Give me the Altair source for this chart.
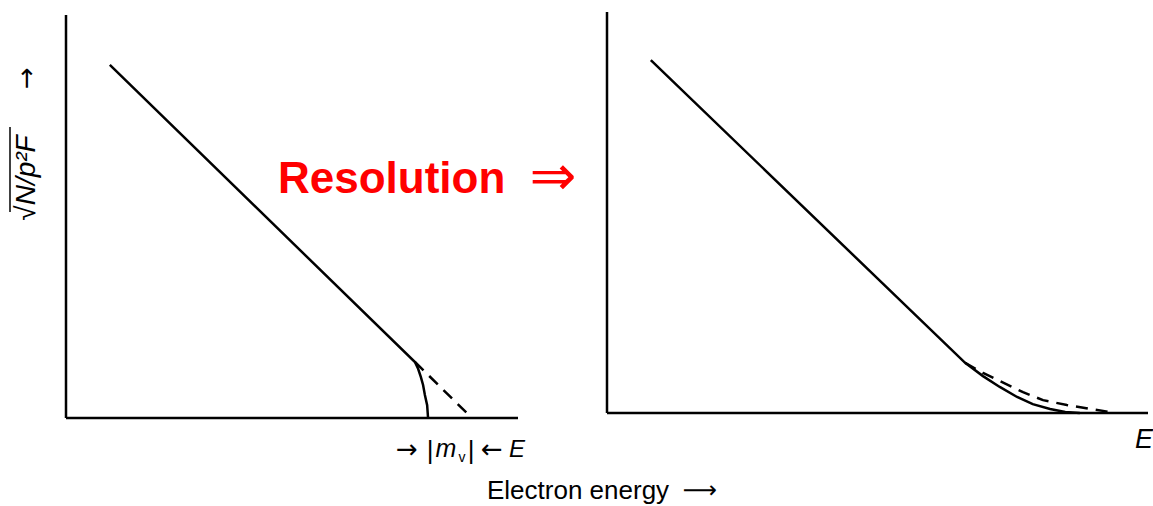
import altair as alt
import pandas as pd

# ---- data (normalised units: x = electron energy, y = sqrt(N/p^2F)) ----
left_solid_x = [0.097, 0.772, 0.779, 0.785, 0.790, 0.794, 0.799, 0.801]
left_solid_y = [0.876, 0.139, 0.122, 0.102, 0.082, 0.057, 0.032, 0.0]
left_dash_x = [0.772, 0.898]
left_dash_y = [0.139, 0.0]

right_solid_x = [0.081, 0.662, 0.695, 0.726, 0.758, 0.787, 0.819, 0.847, 0.874]
right_solid_y = [0.880, 0.125, 0.092, 0.065, 0.040, 0.022, 0.010, 0.0025, 0.0]
right_dash_x = [0.662, 0.695, 0.726, 0.769, 0.806, 0.850, 0.893, 0.930]
right_dash_y = [0.125, 0.100, 0.080, 0.052, 0.032, 0.020, 0.010, 0.0025]

axis_lo = [0.0]
axis_hi = [1.0]

# ---- scales: each panel owns its own x/y scale ----
LX = alt.Scale(domain=[0, 1], range=[66, 518])
LY = alt.Scale(domain=[0, 1], range=[418, 15])
RX = alt.Scale(domain=[0, 1], range=[607, 1148])
RY = alt.Scale(domain=[0, 1], range=[413, 12])

LW = 2.5


def series(xs, ys):
    return pd.DataFrame({"x": xs, "y": ys, "i": list(range(len(xs)))})


def line(xs, ys, sx, sy, dash=None):
    kw = dict(color="black", strokeWidth=LW)
    if dash:
        kw["strokeDash"] = dash
    return alt.Chart(series(xs, ys)).mark_line(**kw).encode(
        x=alt.X("x:Q", scale=sx, axis=None),
        y=alt.Y("y:Q", scale=sy, axis=None),
        order=alt.Order("i:Q"),
    )


def axes(sx, sy):
    df = pd.DataFrame({"lo": axis_lo, "hi": axis_hi})
    xa = alt.Chart(df).mark_rule(color="black", strokeWidth=LW).encode(
        x=alt.X("lo:Q", scale=sx, axis=None),
        x2="hi:Q",
        y=alt.Y("lo:Q", scale=sy, axis=None),
    )
    ya = alt.Chart(df).mark_rule(color="black", strokeWidth=LW).encode(
        x=alt.X("lo:Q", scale=sx, axis=None),
        y=alt.Y("lo:Q", scale=sy, axis=None),
        y2="hi:Q",
    )
    return [xa, ya]


def label(text, x, y, size, font="Liberation Sans", baseline="alphabetic", **kw):
    return alt.Chart(pd.DataFrame({"t": [text]})).mark_text(
        fontSize=size, font=font, baseline=baseline,
        color=kw.pop("color", "black"), **kw
    ).encode(text="t:N", x=alt.value(x), y=alt.value(y))


layers = []
layers += axes(LX, LY)
layers += axes(RX, RY)
layers.append(line(left_solid_x, left_solid_y, LX, LY))
layers.append(line(left_dash_x, left_dash_y, LX, LY, dash=[12, 8]))
layers.append(line(right_solid_x, right_solid_y, RX, RY))
layers.append(line(right_dash_x, right_dash_y, RX, RY, dash=[12, 8]))

# left energy label: -> |m_v| <- E
layers.append(label("→", 407, 450, 26, font="DejaVu Sans", baseline="middle"))
layers.append(label("|", 430, 459, 26))
layers.append(label("m", 446, 457, 25, fontStyle="italic"))
layers.append(label("v", 462, 462, 14))
layers.append(label("|", 471, 459, 26))
layers.append(label("←", 492, 450, 26, font="DejaVu Sans", baseline="middle"))
layers.append(label("E", 517, 457, 24, fontStyle="italic"))

# right energy label
layers.append(label("E", 1144, 448, 27, fontStyle="italic"))

# common x title
layers.append(label("Electron energy", 487, 499, 26, align="left"))
layers.append(label("⟶", 700, 491, 24, font="DejaVu Sans", baseline="middle"))

# y title (rotated)
layers.append(label("√N/p²F", 35, 178, 28, angle=270, fontStyle="italic"))
layers.append(alt.Chart(pd.DataFrame({"t": [0]})).mark_rule(color="black", strokeWidth=1.5).encode(
    x=alt.value(10), y=alt.value(127), y2=alt.value(212)))
layers.append(label("→", 27, 78, 26, font="DejaVu Sans", baseline="middle", angle=270))

# Resolution arrow text
layers.append(label("Resolution", 278, 193, 44, align="left", fontWeight="bold", color="#ff0000"))
layers.append(label("⇒", 553, 178, 56, font="DejaVu Sans", baseline="middle", color="#ff0000"))

chart = alt.layer(*layers).resolve_scale(x="independent", y="independent").properties(
    width=1153,
    height=506,
    autosize=alt.AutoSizeParams(type="none"),
    padding=0,
).configure_view(stroke=None)

chart.save("out.html", embed_options={"renderer": "svg", "actions": False})
